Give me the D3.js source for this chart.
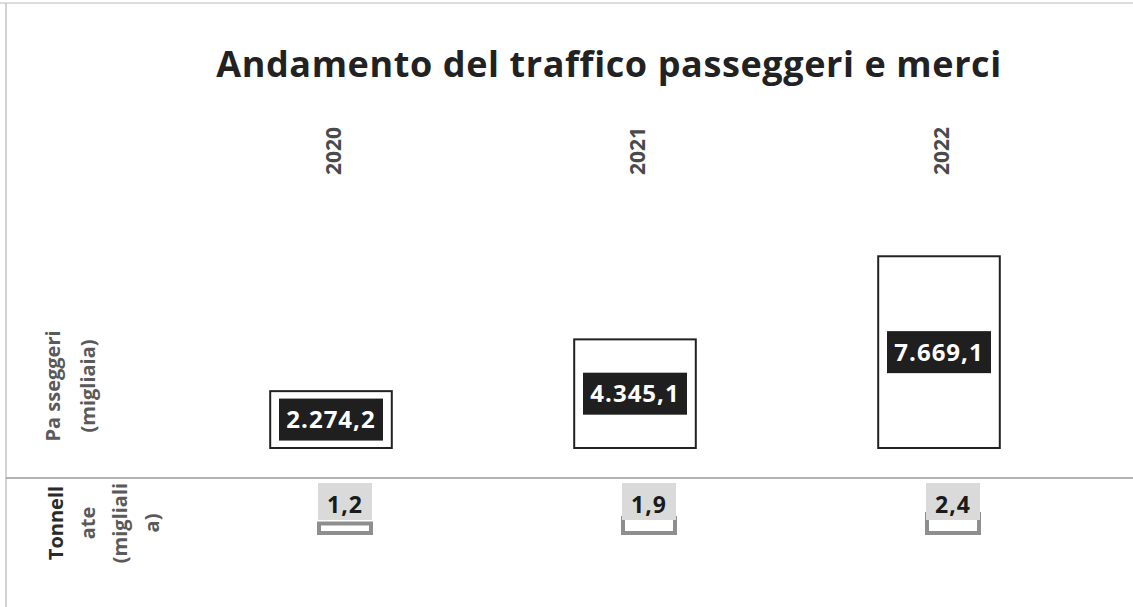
<!DOCTYPE html>
<html>
<head>
<meta charset="utf-8">
<script src="https://cdn.jsdelivr.net/npm/d3@7"></script>
<style>
  html, body { margin: 0; padding: 0; background: #fff; }
  svg { display: block; font-family: 'Open Sans', sans-serif; }
</style>
</head>
<body>
<svg width="1133" height="607"></svg>
<script>
const years = ['2020', '2021', '2022'];
const passeggeri = [2274.2, 4345.1, 7669.1];
const tonnellate = [1.2, 1.9, 2.4];
const fmtIt = v => v.toLocaleString('it-IT', {minimumFractionDigits: 1, maximumFractionDigits: 1});

const svg = d3.select('svg');

// frame lines
svg.append('line').attr('x1', 0).attr('x2', 1133).attr('y1', 3).attr('y2', 3)
    .attr('stroke', '#d0d0d0').attr('stroke-width', 1.5);
svg.append('line').attr('x1', 6).attr('x2', 6).attr('y1', 3).attr('y2', 607)
    .attr('stroke', '#c4c4c4').attr('stroke-width', 1.5);
svg.append('line').attr('x1', 6).attr('x2', 1133).attr('y1', 478).attr('y2', 478)
    .attr('stroke', '#9a9a9a').attr('stroke-width', 1.5);

svg.append('text')
    .attr('x', 609).attr('y', 77)
    .attr('text-anchor', 'middle')
    .attr('font-size', 36).attr('font-weight', 700)
    .attr('letter-spacing', 0.6)
    .attr('fill', '#222')
    .text('Andamento del traffico passeggeri e merci');

const x = d3.scaleBand()
    .domain(years)
    .range([179, 1091])
    .paddingInner(0.6)
    .paddingOuter(0.3);

const y = d3.scaleLinear().domain([0, 8000]).range([448, 248]);

// year labels (rotated)
svg.append('g').selectAll('text')
    .data(years)
    .enter().append('text')
    .attr('transform', d => 'translate(' + (x(d) + x.bandwidth() / 2 + 10) + ',151) rotate(-90)')
    .attr('text-anchor', 'middle')
    .attr('font-size', 21).attr('font-weight', 700)
    .attr('fill', '#4a4a4a')
    .text(d => d);

// upper bars
const bars = svg.append('g').selectAll('g')
    .data(years)
    .enter().append('g');

bars.append('rect')
    .attr('x', d => x(d))
    .attr('y', (d, i) => y(passeggeri[i]))
    .attr('width', x.bandwidth())
    .attr('height', (d, i) => y(0) - y(passeggeri[i]))
    .attr('fill', '#fff')
    .attr('stroke', '#222')
    .attr('stroke-width', 2);

bars.each(function (d, i) {
    const g = d3.select(this);
    const cx = x(d) + x.bandwidth() / 2;
    const cy = (y(0) + y(passeggeri[i])) / 2;
    g.append('rect')
        .attr('x', cx - 52).attr('y', cy - 21)
        .attr('width', 104).attr('height', 42)
        .attr('fill', '#1f1f1f');
    g.append('text')
        .attr('x', cx).attr('y', cy + 8.5)
        .attr('text-anchor', 'middle')
        .attr('font-size', 24).attr('font-weight', 700)
        .attr('letter-spacing', 1)
        .attr('fill', '#fff')
        .text(fmtIt(passeggeri[i]));
});

// lower small bars
const y2 = d3.scaleLinear().domain([0, 2.4]).range([533, 514]);
const low = svg.append('g').selectAll('g')
    .data(years)
    .enter().append('g');

low.append('rect')
    .attr('x', d => x(d) + x.bandwidth() / 2 + 14 - 26)
    .attr('y', (d, i) => y2(tonnellate[i]))
    .attr('width', 52)
    .attr('height', (d, i) => y2(0) - y2(tonnellate[i]))
    .attr('fill', '#fff')
    .attr('stroke', '#8e8e8e')
    .attr('stroke-width', 4);

low.append('rect')
    .attr('x', d => x(d) + x.bandwidth() / 2 + 14 - 27)
    .attr('y', 483)
    .attr('width', 54)
    .attr('height', 37)
    .attr('fill', '#dadada');

low.append('text')
    .attr('x', d => x(d) + x.bandwidth() / 2 + 14)
    .attr('y', 513)
    .attr('text-anchor', 'middle')
    .attr('font-size', 23).attr('font-weight', 700)
    .attr('letter-spacing', 1)
    .attr('fill', '#1a1a1a')
    .text((d, i) => fmtIt(tonnellate[i]));

// row labels
function rowLabel(lines, cx, cy, gap, boldFirst) {
    const n = lines.length;
    lines.forEach((s, k) => {
        const dark = boldFirst && k === 0;
        svg.append('text')
            .attr('transform', 'translate(' + (cx + (k - (n - 1) / 2) * gap) + ',' + cy + ') rotate(-90)')
            .attr('text-anchor', 'middle')
            .attr('dy', '0.35em')
            .attr('font-size', 20)
            .attr('font-weight', 700)
            .attr('fill', dark ? '#2a2a2a' : '#5a5a5a')
            .text(s);
    });
}
rowLabel(['Pa sseggeri', '(migliaia)'], 70, 386, 35, false);
rowLabel(['Tonnell', 'ate', '(migliali', 'a)'], 104, 523, 32, true);
</script>
</body>
</html>
